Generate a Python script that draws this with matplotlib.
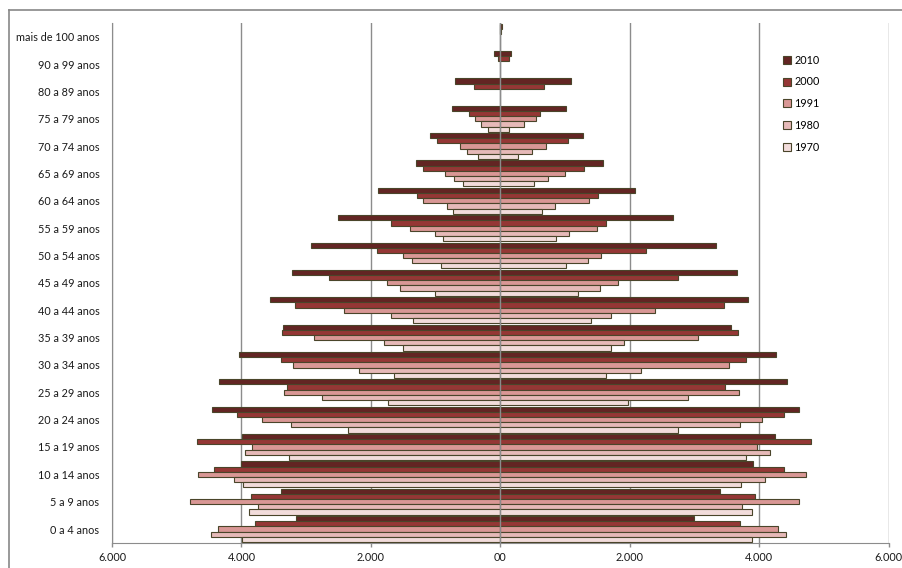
import matplotlib
matplotlib.use('Agg')
import matplotlib.pyplot as plt
import numpy as np
from matplotlib.lines import Line2D

# faixas etarias (de baixo para cima)
faixas = ['0 a 4 anos', '5 a 9 anos', '10 a 14 anos', '15 a 19 anos', '20 a 24 anos',
          '25 a 29 anos', '30 a 34 anos', '35 a 39 anos', '40 a 44 anos', '45 a 49 anos',
          '50 a 54 anos', '55 a 59 anos', '60 a 64 anos', '65 a 69 anos', '70 a 74 anos',
          '75 a 79 anos', '80 a 89 anos', '90 a 99 anos', 'mais de 100 anos']

anos = ['2010', '2000', '1991', '1980', '1970']

# homens (lado esquerdo)
homens_2010 = [3163, 3384, 4002, 3991, 4461, 4347, 4043, 3358, 3554, 3214, 2931, 2508, 1890, 1303, 1087, 747, 695, 103, 10]
homens_2000 = [3785, 3847, 4430, 4682, 4074, 3291, 3384, 3368, 3173, 2647, 1911, 1695, 1288, 1195, 973, 489, 406, 36, 5]
homens_1991 = [4368, 4795, 4671, 3832, 3677, 3348, 3209, 2879, 2410, 1756, 1509, 1401, 1200, 855, 628, 391, 0, 0, 0]
homens_1980 = [4471, 3739, 4115, 3950, 3229, 2750, 2189, 1803, 1695, 1545, 1370, 1015, 824, 716, 520, 304, 0, 0, 0]
homens_1970 = [3991, 3883, 3976, 3260, 2353, 1735, 1648, 1509, 1355, 1015, 922, 891, 737, 577, 350, 185, 0, 0, 0]

# mulheres (lado direito)
mulheres_2010 = [2988, 3399, 3898, 4244, 4610, 4435, 4259, 3569, 3832, 3652, 3327, 2668, 2081, 1592, 1277, 1010, 1092, 170, 25]
mulheres_2000 = [3703, 3930, 4384, 4801, 4378, 3477, 3791, 3677, 3461, 2750, 2251, 1633, 1514, 1293, 1046, 613, 680, 140, 12]
mulheres_1991 = [4295, 4620, 4718, 3966, 4043, 3688, 3538, 3055, 2390, 1823, 1550, 1489, 1365, 994, 700, 556, 0, 0, 0]
mulheres_1980 = [4408, 3734, 4084, 4167, 3698, 2905, 2168, 1906, 1705, 1535, 1355, 1056, 850, 737, 489, 371, 0, 0, 0]
mulheres_1970 = [3883, 3894, 3713, 3791, 2740, 1968, 1628, 1710, 1396, 1195, 1010, 855, 639, 515, 273, 139, 0, 0, 0]

homens = [homens_2010, homens_2000, homens_1991, homens_1980, homens_1970]
mulheres = [mulheres_2010, mulheres_2000, mulheres_1991, mulheres_1980, mulheres_1970]

cores = ['#632523', '#953735', '#d99795', '#e6b9b8', '#f2dcdb']
borda = '#4a452a'
cinza = '#8c8c8c'

xticks = [-6000, -4000, -2000, 0, 2000, 4000, 6000]
xlabels = ['6.000', '4.000', '2.000', '00', '2.000', '4.000', '6.000']

plt.rcParams['font.family'] = ['Lato', 'DejaVu Sans']
fs = 7.8

fig = plt.figure(figsize=(9.03, 5.68), dpi=100)
# moldura externa (so aparecem os lados esquerdo e de cima)
x0 = 9.5 / 903
y0 = 1 - 9.5 / 568
fig.add_artist(Line2D([x0, x0], [0, y0], transform=fig.transFigure, color='#888888', linewidth=1.2, zorder=10))
fig.add_artist(Line2D([x0, 1], [y0, y0], transform=fig.transFigure, color='#888888', linewidth=1.2, zorder=10))

ax = fig.add_axes([112 / 903, 1 - 542.7 / 568, (888.7 - 112) / 903, (542.7 - 23) / 568])

y = np.arange(len(faixas))
h = 0.19
for k in range(5):
    pos = y + (2 - k) * h
    m = np.array(homens[k], dtype=float)
    f = np.array(mulheres[k], dtype=float)
    ok_m = m > 0
    ok_f = f > 0
    ax.barh(pos[ok_m], -m[ok_m], height=h, color=cores[k], edgecolor=borda, linewidth=0.8, zorder=3)
    ax.barh(pos[ok_f], f[ok_f], height=h, color=cores[k], edgecolor=borda, linewidth=0.8,
            zorder=3, label=anos[k])

ax.set_xlim(-6000, 6000)
ax.set_ylim(-0.5, len(faixas) - 0.5)
ax.set_xticks(xticks)
ax.set_xticklabels(xlabels, fontsize=fs, color='#1a1a1a')
ax.set_yticks(y)
ax.set_yticklabels(faixas, fontsize=fs, color='#1a1a1a')
ax.tick_params(axis='y', length=0, pad=9)
ax.tick_params(axis='x', length=3, width=1, color=cinza, pad=4)
ax.grid(axis='x', color=cinza, linewidth=1.0, zorder=0)
ax.axvline(0, color=cinza, linewidth=1.0, zorder=4)
for s in ['top', 'right']:
    ax.spines[s].set_visible(False)
ax.spines['left'].set_color(cinza)
ax.spines['bottom'].set_color(cinza)

ax.legend(loc='upper left', bbox_to_anchor=(783 / 903, 1 - 54.5 / 568), bbox_transform=fig.transFigure,
          frameon=False, fontsize=fs, handlelength=0.75, handleheight=0.75, handletextpad=0.3,
          labelspacing=1.0, borderaxespad=0, borderpad=0)

fig.savefig('out.png', dpi=100)
